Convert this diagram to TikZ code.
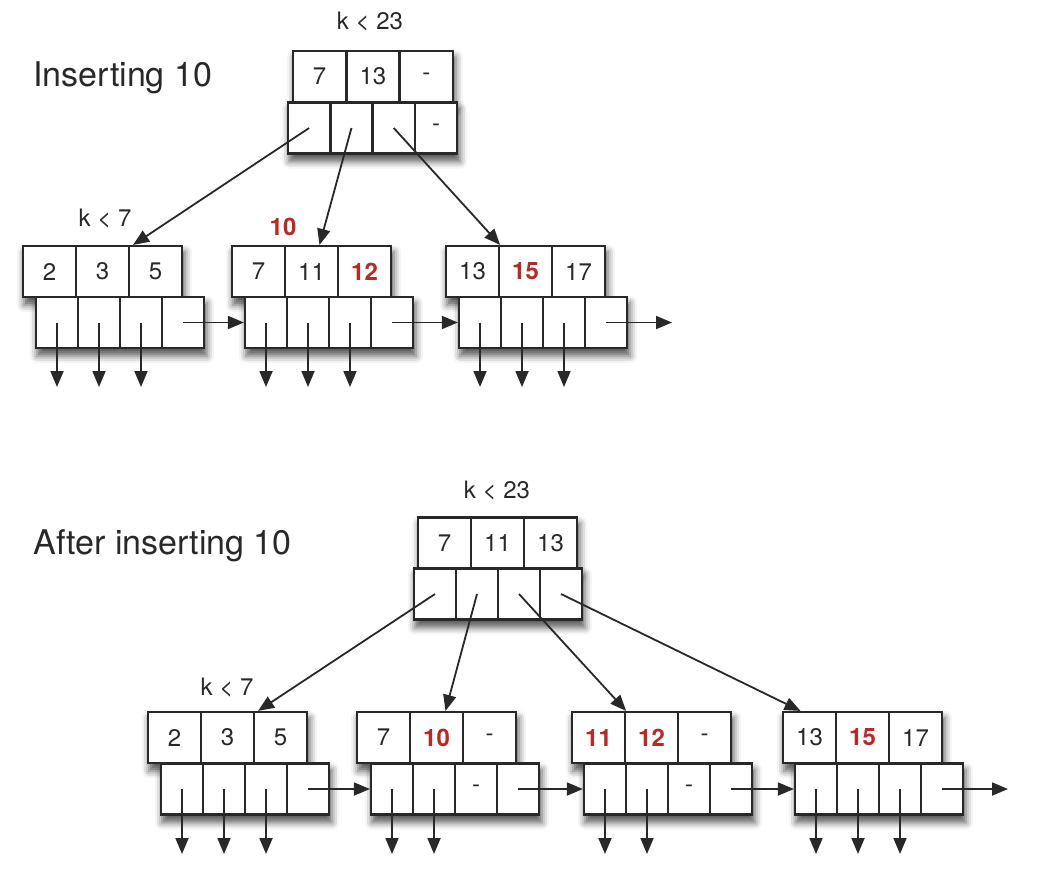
\documentclass[tikz,border=0pt]{standalone}
\usepackage{fontspec}
\setmainfont{TeX Gyre Heros}
\usetikzlibrary{arrows.meta,calc,backgrounds,shadows.blur}
\definecolor{keyred}{RGB}{185,40,35}
\definecolor{ink}{RGB}{40,40,40}
\newcommand\redkey[1]{\textcolor{keyred}{\bfseries #1}}

\begin{document}
\begin{tikzpicture}[x=0.5pt,y=-0.5pt,
  keycell/.style={draw=ink, line width=1.1pt, fill=white, inner sep=0pt,
    minimum width=26.5pt, minimum height=25.5pt, text=ink,
    font=\fontsize{12}{14}\selectfont},
  ptrcell/.style={keycell, minimum width=21pt},
  arr/.style={draw=ink, line width=0.9pt, -{Triangle[length=8pt,width=6.5pt]}},
  title/.style={text=ink, inner sep=0pt, font=\fontsize{17}{20}\selectfont},
  small/.style={text=ink, font=\fontsize{12}{14}\selectfont},
  soft/.style={fill=white, blur shadow={shadow xshift=1pt, shadow yshift=-3.5pt,
    shadow blur radius=3.5pt, shadow opacity=65}}]
  \useasboundingbox (0,0) rectangle (1052,868);

  % before inserting
  \node[title, anchor=west] (atitle) at (33,78) {Inserting 10};
  \node[small] (aroot) at (370,22) {k < 23};
  \foreach \t [count=\i] in {7,13,-}
    \node[keycell] (ar-k\i) at ({293+53.3*(\i-0.5)},76.5) {\t};
  \foreach \t [count=\i] in {{},{},{},-}
    \node[ptrcell] (ar-p\i) at ({288+42.3*(\i-0.5)},128) {\t};

  \node[small] (aleft) at (105,219) {k < 7};
  \node[small, text=keyred, font=\fontsize{12}{14}\selectfont\bfseries] (anew) at (283,227) {10};
  \foreach \t [count=\i] in {2,3,5}
    \node[keycell] (a1-k\i) at ({23+53*(\i-0.5)},271.5) {\t};
  \foreach \t [count=\i] in {7,11,\redkey{12}}
    \node[keycell] (a2-k\i) at ({232+53*(\i-0.5)},271.5) {\t};
  \foreach \t [count=\i] in {13,\redkey{15},17}
    \node[keycell] (a3-k\i) at ({446+53*(\i-0.5)},271.5) {\t};
  \foreach \x [count=\j] in {36,245,459}
    \foreach \i in {1,...,4}
      \node[ptrcell] (a\j-p\i) at ({\x+42*(\i-0.5)},322.5) {};

  \coordinate (adown) at (0,387);
  \coordinate (aend) at (672,322.5);
  \draw[arr] (ar-p1.center) -- ($(a1-k2.north east)+(3,0)$);
  \draw[arr] (ar-p2.center) -- ($(a2-k2.north)+(8,0)$);
  \draw[arr] (ar-p3.center) -- (a3-k1.north east);
  \draw[arr] (a1-p4.center) -- (a2-p1.west);
  \draw[arr] (a2-p4.center) -- (a3-p1.west);
  \draw[arr] (a3-p4.center) -- (aend);
  \foreach \j in {1,2,3}
    \foreach \i in {1,2,3}
      \draw[arr] (a\j-p\i.center) -- (a\j-p\i |- adown);

  % after inserting
  \node[title, anchor=west] (btitle) at (33,546) {After inserting 10};
  \node[small] (broot) at (497,491) {k < 23};
  \foreach \t [count=\i] in {7,11,13}
    \node[keycell] (br-k\i) at ({418+53*(\i-0.5)},543) {\t};
  \foreach \i in {1,...,4}
    \node[ptrcell] (br-p\i) at ({414+42*(\i-0.5)},594) {};

  \node[small] (bleft) at (227,688) {k < 7};
  \foreach \t [count=\i] in {2,3,5}
    \node[keycell] (b1-k\i) at ({148+53*(\i-0.5)},737.5) {\t};
  \foreach \t [count=\i] in {7,\redkey{10},-}
    \node[keycell] (b2-k\i) at ({357+53*(\i-0.5)},737.5) {\t};
  \foreach \t [count=\i] in {\redkey{11},\redkey{12},-}
    \node[keycell] (b3-k\i) at ({572+53*(\i-0.5)},737.5) {\t};
  \foreach \t [count=\i] in {13,\redkey{15},17}
    \node[keycell] (b4-k\i) at ({783+53*(\i-0.5)},737.5) {\t};
  \foreach \i in {1,...,4}
    \node[ptrcell] (b1-p\i) at ({161+42*(\i-0.5)},789) {};
  \foreach \t [count=\i] in {{},{},-,{}}
    \node[ptrcell] (b2-p\i) at ({371+42*(\i-0.5)},789) {\t};
  \foreach \t [count=\i] in {{},{},-,{}}
    \node[ptrcell] (b3-p\i) at ({584+42*(\i-0.5)},789) {\t};
  \foreach \i in {1,...,4}
    \node[ptrcell] (b4-p\i) at ({795+42*(\i-0.5)},789) {};

  \coordinate (bdown) at (0,854);
  \coordinate (bend) at (1008,789);
  \draw[arr] (br-p1.center) -- ($(b1-k2.north east)+(3,0)$);
  \draw[arr] (br-p2.center) -- ($(b2-k2.north)+(9,0)$);
  \draw[arr] (br-p3.center) -- (b3-k1.north east);
  \draw[arr] (br-p4.center) -- ($(b4-k1.north)+(-9,0)$);
  \draw[arr] (b1-p4.center) -- (b2-p1.west);
  \draw[arr] (b2-p4.center) -- (b3-p1.west);
  \draw[arr] (b3-p4.center) -- (b4-p1.west);
  \draw[arr] (b4-p4.center) -- (bend);
  \foreach \j/\n in {1/3,2/2,3/2,4/3}
    \foreach \i in {1,...,\n}
      \draw[arr] (b\j-p\i.center) -- (b\j-p\i |- bdown);

  % soft shadows under the boxes
  \begin{scope}[on background layer]
    \foreach \n in {ar,a1,a2,a3,br,b1,b2,b3,b4} {
      \path[soft] (\n-k1.north west) rectangle (\n-k3.south east);
      \path[soft] (\n-p1.north west) rectangle (\n-p4.south east);
    }
  \end{scope}
\end{tikzpicture}
\end{document}
